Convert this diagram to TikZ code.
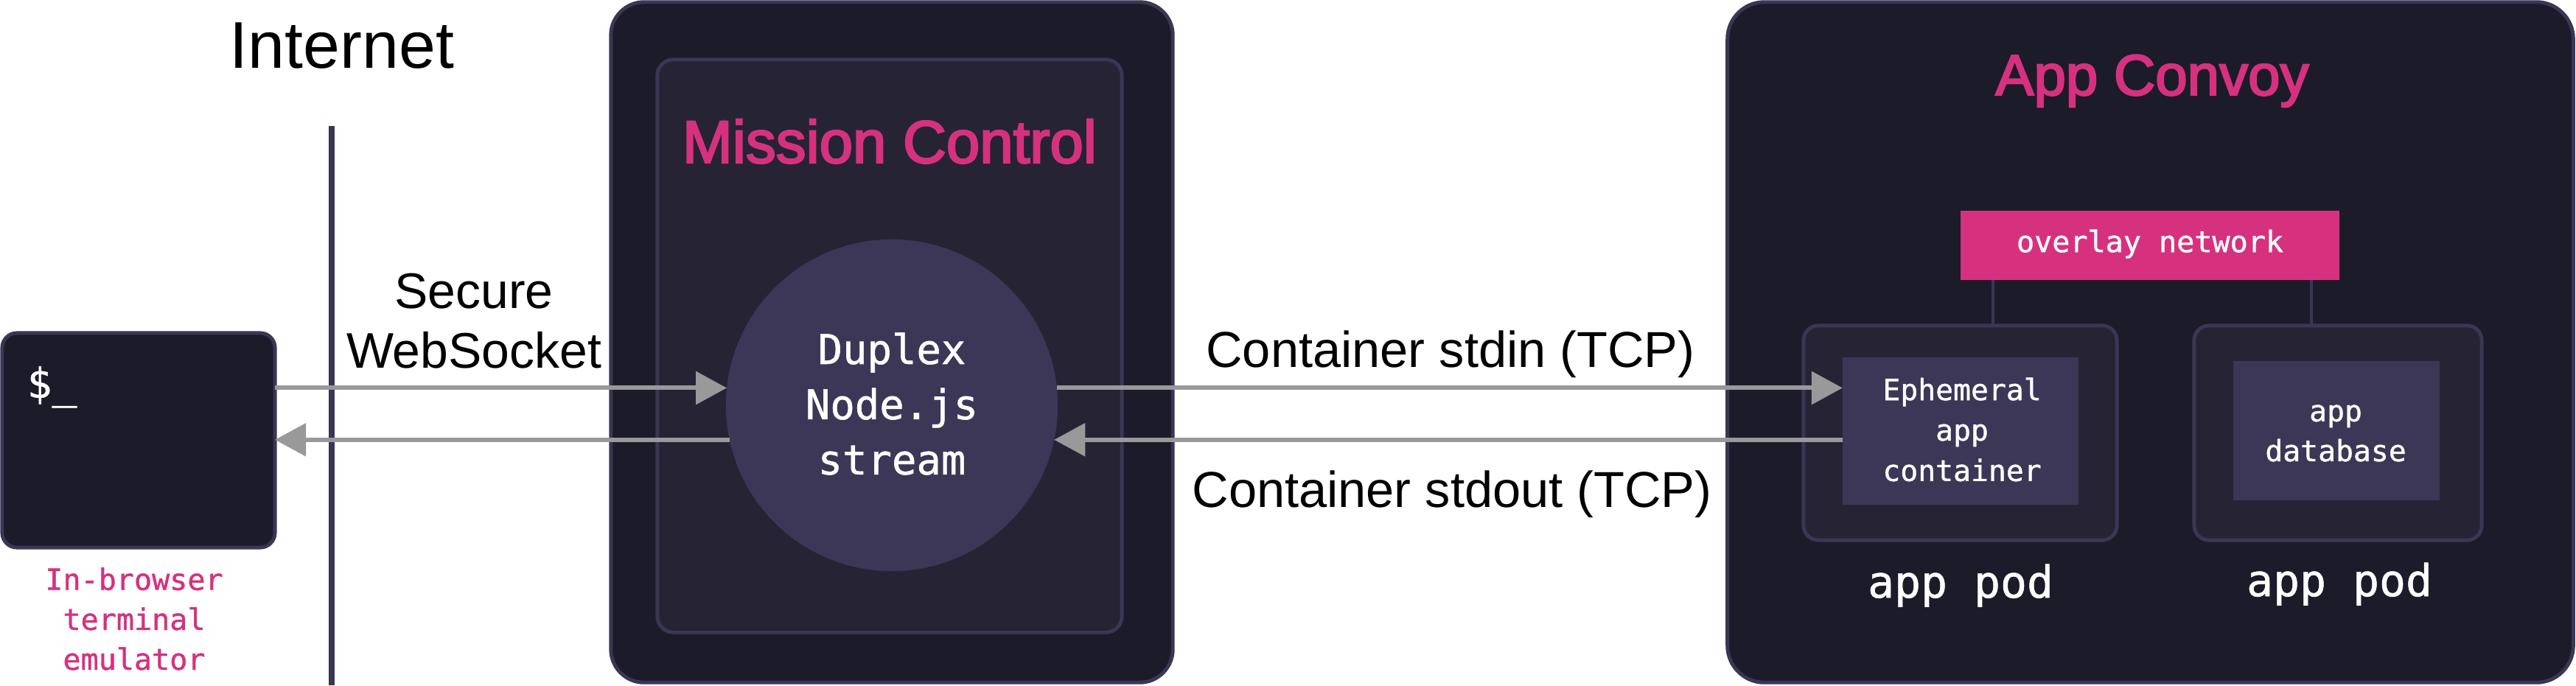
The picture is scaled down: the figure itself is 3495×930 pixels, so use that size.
\documentclass[tikz,border=0pt]{standalone}
\usepackage{fontspec}
\setmainfont{Liberation Sans}
\newfontfamily\monofont[FakeBold=1]{DejaVu Sans Mono}
\newfontfamily\titlefont[FakeBold=3]{Liberation Sans}
\usetikzlibrary{arrows.meta,calc}
\definecolor{dkbg}{HTML}{1C1B29}
\definecolor{edgec}{HTML}{3B3655}
\definecolor{panelc}{HTML}{262335}
\definecolor{itemc}{HTML}{3C3756}
\definecolor{pinkc}{HTML}{D6317F}
\definecolor{arrowc}{HTML}{999999}
\begin{document}
\begin{tikzpicture}[x=0.01cm,y=-0.01cm,
  box/.style={draw=edgec, line width=1.4pt, inner sep=0pt, outer sep=0pt},
  outerbox/.style={box, fill=dkbg},
  panel/.style={box, fill=panelc},
  item/.style={inner sep=0pt, outer sep=0pt, fill=itemc},
  arr/.style={draw=arrowc, line width=1.7pt, -{Triangle[length=0.42cm,width=0.44cm]}},
  link/.style={draw=edgec, line width=1.1pt},
  divider/.style={draw=edgec, line width=2pt},
  sans/.style={inner sep=0pt, text=black},
  mono/.style={inner sep=0pt, text=white, align=center},
]
\useasboundingbox[fill=white] (0,0) rectangle (3495,930);

% Internet divider
\coordinate (inettop) at (450,171);
\coordinate (inetbot) at (450,930);
\draw[divider] (inettop) -- (inetbot);
\node[sans, anchor=base, font={\fontsize{25.5}{30}\selectfont}] (inet) at (464,92) {Internet};

% terminal
\node[outerbox, rounded corners=0.2cm, minimum width=3.70cm, minimum height=2.91cm] (term) at (188,597.5) {};
\node[mono, anchor=base west, font={\monofont\fontsize{16}{20}\selectfont}] (prompt) at (36,540) {\$\_};
\node[mono, anchor=base, text=pinkc, font={\monofont\fontsize{11.4}{15.4}\selectfont}] (termlbl) at (182,909) {In-browser\\terminal\\emulator};

% Mission Control
\node[outerbox, rounded corners=0.45cm, minimum width=7.62cm, minimum height=9.23cm] (mcout) at (1210,464.5) {};
\node[panel, rounded corners=0.22cm, minimum width=6.30cm, minimum height=7.77cm] (mcin) at (1207,469.5) {};
\node[sans, anchor=base, text=pinkc, font={\titlefont\fontsize{23.2}{28}\selectfont}] (mctitle) at (1207,221) {Mission Control};
\node[circle, item, minimum size=4.5cm] (circ) at (1210,550) {};
\node[mono, font={\monofont\fontsize{15.8}{21.3}\selectfont}] (circtxt) at (1210,548) {Duplex\\Node.js\\stream};

% App Convoy
\node[outerbox, rounded corners=0.5cm, minimum width=11.47cm, minimum height=9.23cm] (acout) at (2917.5,464.5) {};
\node[sans, anchor=base, text=pinkc, font={\titlefont\fontsize{22.2}{27}\selectfont}] (actitle) at (2920,129) {App Convoy};
\node[inner sep=0pt, outer sep=0pt, fill=pinkc, minimum width=5.14cm, minimum height=0.94cm] (ovl) at (2917,333) {};
\node[mono, font={\monofont\fontsize{11.4}{14}\selectfont}] (ovltxt) at (2917,331) {overlay network};

\node[panel, rounded corners=0.2cm, minimum width=4.25cm, minimum height=2.91cm] (pod1) at (2659.5,587.5) {};
\node[item, minimum width=3.20cm, minimum height=2.00cm] (eph) at (2660,585) {};
\node[mono, font={\monofont\fontsize{11.3}{15.6}\selectfont}] (ephtxt) at (2662,583) {Ephemeral\\app\\container};

\node[panel, rounded corners=0.2cm, minimum width=3.90cm, minimum height=2.91cm] (pod2) at (3172,587.5) {};
\node[item, minimum width=2.80cm, minimum height=1.89cm] (db) at (3170,584.5) {};
\node[mono, font={\monofont\fontsize{11.3}{15.4}\selectfont}] (dbtxt) at (3169,588) {app\\database};

\node[mono, anchor=base, font={\monofont\fontsize{17}{20}\selectfont}] (pod1lbl) at (2660,811) {app pod};
\node[mono, anchor=base, font={\monofont\fontsize{17}{20}\selectfont}] (pod2lbl) at (3174,809) {app pod};

\draw[link] ([xshift=0.44cm]ovl.south west) coordinate (l1) -- (l1 |- pod1.north);
\draw[link] ([xshift=-0.38cm]ovl.south east) coordinate (l2) -- (l2 |- pod2.north);

% arrows
\draw[arr] (term.east |- circ.174) -- (circ.174);
\draw[arr] (circ.192) -- (term.east |- circ.192);
\draw[arr] (circ.6) -- (eph.west |- circ.6);
\draw[arr] (eph.west |- circ.348) -- (circ.348);

% arrow labels
\node[sans, anchor=south, align=center, font={\fontsize{19.3}{23}\selectfont}] (wslbl) at (643,501) {Secure\\WebSocket};
\node[sans, anchor=base, font={\fontsize{19.5}{23}\selectfont}] (inlbl) at (1968,498) {Container stdin (TCP)};
\node[sans, anchor=base, font={\fontsize{19.5}{23}\selectfont}] (outlbl) at (1970,688) {Container stdout (TCP)};
\end{tikzpicture}
\end{document}
